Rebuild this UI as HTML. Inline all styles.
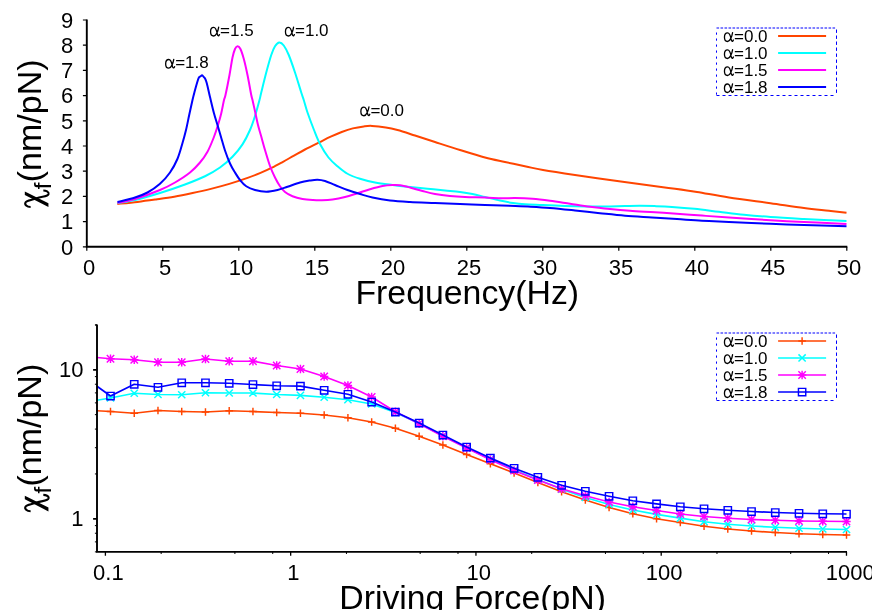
<!DOCTYPE html>
<html><head><meta charset="utf-8"><title>chart</title>
<style>html,body{margin:0;padding:0;background:#fff;overflow:hidden}svg{display:block;will-change:transform}text{font-family:"Liberation Sans",sans-serif;fill:#000}.sy{font-family:"Liberation Serif",serif}</style>
</head><body>
<svg width="872" height="610" viewBox="0 0 872 610">
<rect width="872" height="610" fill="#fff"/>
<g fill="none" stroke-width="2" stroke-linejoin="round" stroke-linecap="butt">
<path d="M117.30,203.90 C120.67,203.57 131.07,202.63 137.50,201.90 C143.93,201.17 149.78,200.35 155.90,199.50 C162.02,198.65 168.08,197.87 174.20,196.80 C180.32,195.73 186.48,194.42 192.60,193.10 C198.72,191.78 204.78,190.43 210.90,188.90 C217.02,187.37 223.18,185.73 229.30,183.90 C235.42,182.07 242.40,179.73 247.60,177.90 C252.80,176.07 256.43,174.60 260.50,172.90 C264.57,171.20 268.25,169.55 272.00,167.70 C275.75,165.85 279.33,163.82 283.00,161.80 C286.67,159.78 290.33,157.65 294.00,155.60 C297.67,153.55 300.72,151.75 305.00,149.50 C309.28,147.25 315.42,144.23 319.70,142.10 C323.98,139.97 327.03,138.38 330.70,136.70 C334.37,135.02 338.02,133.38 341.70,132.00 C345.38,130.62 349.12,129.33 352.80,128.40 C356.48,127.47 360.60,126.82 363.80,126.40 C367.00,125.98 368.33,125.73 372.00,125.90 C375.67,126.07 381.55,126.72 385.80,127.40 C390.05,128.08 392.63,128.65 397.50,130.00 C402.37,131.35 408.75,133.50 415.00,135.50 C421.25,137.50 427.50,139.58 435.00,142.00 C442.50,144.42 451.67,147.42 460.00,150.00 C468.33,152.58 477.50,155.50 485.00,157.50 C492.50,159.50 498.17,160.50 505.00,162.00 C511.83,163.50 519.67,165.17 526.00,166.50 C532.33,167.83 534.83,168.58 543.00,170.00 C551.17,171.42 562.33,173.12 575.00,175.00 C587.67,176.88 606.17,179.45 619.00,181.25 C631.83,183.05 642.67,184.55 652.00,185.80 C661.33,187.05 667.50,187.72 675.00,188.75 C682.50,189.78 688.00,190.54 697.00,192.00 C706.00,193.46 716.75,195.62 729.00,197.50 C741.25,199.38 758.00,201.50 770.50,203.25 C783.00,205.00 794.25,206.75 804.00,208.00 C813.75,209.25 821.92,209.96 829.00,210.75 C836.08,211.54 843.58,212.42 846.50,212.75" stroke="#ff4500"/>
<path d="M117.50,203.00 C120.42,202.50 127.92,201.67 135.00,200.00 C142.08,198.33 151.67,195.58 160.00,193.00 C168.33,190.42 177.50,187.29 185.00,184.50 C192.50,181.71 199.17,179.08 205.00,176.25 C210.83,173.42 215.42,170.74 220.00,167.50 C224.58,164.26 228.75,160.65 232.50,156.80 C236.25,152.95 239.58,148.87 242.50,144.40 C245.42,139.93 247.92,134.73 250.00,130.00 C252.08,125.27 253.42,121.00 255.00,116.00 C256.58,111.00 258.46,103.92 259.50,100.00 C260.54,96.08 260.12,97.08 261.25,92.50 C262.38,87.92 264.58,78.75 266.25,72.50 C267.92,66.25 269.79,59.38 271.25,55.00 C272.71,50.62 273.67,48.33 275.00,46.25 C276.33,44.17 277.79,42.62 279.25,42.50 C280.71,42.38 282.17,43.42 283.75,45.50 C285.33,47.58 286.88,50.50 288.75,55.00 C290.62,59.50 292.92,66.25 295.00,72.50 C297.08,78.75 299.79,87.92 301.25,92.50 C302.71,97.08 302.71,96.67 303.75,100.00 C304.79,103.33 305.79,107.50 307.50,112.50 C309.21,117.50 311.92,124.75 314.00,130.00 C316.08,135.25 317.58,139.42 320.00,144.00 C322.42,148.58 325.58,153.79 328.50,157.50 C331.42,161.21 334.33,163.54 337.50,166.25 C340.67,168.96 343.75,171.67 347.50,173.75 C351.25,175.83 355.42,177.29 360.00,178.75 C364.58,180.21 369.58,181.46 375.00,182.50 C380.42,183.54 386.67,184.25 392.50,185.00 C398.33,185.75 404.17,186.38 410.00,187.00 C415.83,187.62 421.67,188.17 427.50,188.75 C433.33,189.33 439.58,189.96 445.00,190.50 C450.42,191.04 455.42,191.42 460.00,192.00 C464.58,192.58 468.33,193.17 472.50,194.00 C476.67,194.83 480.42,195.90 485.00,197.00 C489.58,198.10 495.33,199.60 500.00,200.60 C504.67,201.60 508.83,202.39 513.00,203.00 C517.17,203.61 520.00,203.92 525.00,204.25 C530.00,204.58 536.33,204.71 543.00,205.00 C549.67,205.29 558.00,205.75 565.00,206.00 C572.00,206.25 578.33,206.42 585.00,206.50 C591.67,206.58 598.33,206.58 605.00,206.50 C611.67,206.42 619.17,206.12 625.00,206.00 C630.83,205.88 635.00,205.73 640.00,205.75 C645.00,205.77 649.67,205.91 655.00,206.10 C660.33,206.29 665.42,206.46 672.00,206.90 C678.58,207.34 686.67,207.94 694.50,208.75 C702.33,209.56 710.75,210.75 719.00,211.75 C727.25,212.75 735.42,213.88 744.00,214.75 C752.58,215.62 760.50,216.29 770.50,217.00 C780.50,217.71 794.25,218.46 804.00,219.00 C813.75,219.54 821.92,219.92 829.00,220.25 C836.08,220.58 843.58,220.88 846.50,221.00" stroke="#00ffff"/>
<path d="M117.50,202.75 C120.42,202.12 127.92,201.12 135.00,199.00 C142.08,196.88 153.33,192.75 160.00,190.00 C166.67,187.25 170.00,185.42 175.00,182.50 C180.00,179.58 185.83,175.83 190.00,172.50 C194.17,169.17 197.08,165.96 200.00,162.50 C202.92,159.04 205.21,155.92 207.50,151.75 C209.79,147.58 212.00,141.96 213.75,137.50 C215.50,133.04 216.76,129.00 218.00,125.00 C219.24,121.00 220.20,117.67 221.20,113.50 C222.20,109.33 223.28,103.08 224.00,100.00 C224.72,96.92 224.58,99.17 225.50,95.00 C226.42,90.83 228.33,81.25 229.50,75.00 C230.67,68.75 231.58,61.83 232.50,57.50 C233.42,53.17 234.17,50.88 235.00,49.00 C235.83,47.12 236.62,46.29 237.50,46.25 C238.38,46.21 239.26,46.67 240.30,48.75 C241.34,50.83 242.55,54.38 243.75,58.75 C244.95,63.12 246.25,68.96 247.50,75.00 C248.75,81.04 250.42,90.83 251.25,95.00 C252.08,99.17 251.79,96.92 252.50,100.00 C253.21,103.08 254.58,109.33 255.50,113.50 C256.42,117.67 257.04,121.17 258.00,125.00 C258.96,128.83 260.08,132.33 261.25,136.50 C262.42,140.67 263.54,145.08 265.00,150.00 C266.46,154.92 268.33,161.42 270.00,166.00 C271.67,170.58 273.33,174.12 275.00,177.50 C276.67,180.88 278.33,183.83 280.00,186.25 C281.67,188.67 282.92,190.33 285.00,192.00 C287.08,193.67 289.58,195.08 292.50,196.25 C295.42,197.42 299.08,198.36 302.50,199.00 C305.92,199.64 309.75,199.88 313.00,200.10 C316.25,200.32 318.75,200.40 322.00,200.30 C325.25,200.20 328.67,200.05 332.50,199.50 C336.33,198.95 340.83,198.04 345.00,197.00 C349.17,195.96 353.33,194.54 357.50,193.25 C361.67,191.96 365.83,190.46 370.00,189.25 C374.17,188.04 378.75,186.71 382.50,186.00 C386.25,185.29 389.58,185.12 392.50,185.00 C395.42,184.88 397.08,184.83 400.00,185.25 C402.92,185.67 406.25,186.54 410.00,187.50 C413.75,188.46 418.33,189.92 422.50,191.00 C426.67,192.08 430.42,193.17 435.00,194.00 C439.58,194.83 445.00,195.50 450.00,196.00 C455.00,196.50 459.17,196.75 465.00,197.00 C470.83,197.25 478.83,197.28 485.00,197.50 C491.17,197.72 497.00,198.22 502.00,198.30 C507.00,198.38 509.92,197.93 515.00,198.00 C520.08,198.07 526.67,198.29 532.50,198.75 C538.33,199.21 543.75,199.92 550.00,200.75 C556.25,201.58 563.33,202.75 570.00,203.75 C576.67,204.75 583.33,205.88 590.00,206.75 C596.67,207.62 603.33,208.33 610.00,209.00 C616.67,209.67 622.50,210.20 630.00,210.75 C637.50,211.30 646.67,211.76 655.00,212.30 C663.33,212.84 672.17,213.45 680.00,214.00 C687.83,214.55 693.83,215.02 702.00,215.60 C710.17,216.18 717.58,216.72 729.00,217.50 C740.42,218.28 758.00,219.50 770.50,220.25 C783.00,221.00 791.33,221.38 804.00,222.00 C816.67,222.62 839.42,223.67 846.50,224.00" stroke="#ff00ff"/>
<path d="M117.50,202.00 C120.42,201.25 130.00,199.08 135.00,197.50 C140.00,195.92 143.33,194.79 147.50,192.50 C151.67,190.21 156.25,187.08 160.00,183.75 C163.75,180.42 167.08,176.67 170.00,172.50 C172.92,168.33 175.42,163.67 177.50,158.75 C179.58,153.83 181.08,147.79 182.50,143.00 C183.92,138.21 184.88,134.67 186.00,130.00 C187.12,125.33 188.12,120.00 189.20,115.00 C190.28,110.00 191.62,103.83 192.50,100.00 C193.38,96.17 193.70,95.00 194.50,92.00 C195.30,89.00 196.57,84.40 197.30,82.00 C198.03,79.60 198.37,78.55 198.90,77.60 C199.43,76.65 199.97,76.68 200.50,76.30 C201.03,75.92 201.58,75.22 202.10,75.30 C202.62,75.38 203.10,76.25 203.60,76.80 C204.10,77.35 204.57,77.53 205.10,78.60 C205.63,79.67 205.98,80.13 206.80,83.20 C207.62,86.27 208.82,92.03 210.00,97.00 C211.18,101.97 212.65,108.33 213.90,113.00 C215.15,117.67 216.32,121.00 217.50,125.00 C218.68,129.00 219.75,132.75 221.00,137.00 C222.25,141.25 223.50,146.08 225.00,150.50 C226.50,154.92 228.33,159.83 230.00,163.50 C231.67,167.17 233.33,169.75 235.00,172.50 C236.67,175.25 238.12,177.71 240.00,180.00 C241.88,182.29 243.75,184.58 246.25,186.25 C248.75,187.92 251.67,189.08 255.00,190.00 C258.33,190.92 262.50,191.75 266.25,191.75 C270.00,191.75 273.96,190.83 277.50,190.00 C281.04,189.17 283.75,188.00 287.50,186.75 C291.25,185.50 296.25,183.54 300.00,182.50 C303.75,181.46 307.08,180.96 310.00,180.50 C312.92,180.04 315.00,179.67 317.50,179.75 C320.00,179.83 322.08,180.12 325.00,181.00 C327.92,181.88 331.25,183.50 335.00,185.00 C338.75,186.50 343.33,188.50 347.50,190.00 C351.67,191.50 355.83,192.75 360.00,194.00 C364.17,195.25 367.50,196.42 372.50,197.50 C377.50,198.58 383.75,199.75 390.00,200.50 C396.25,201.25 402.50,201.58 410.00,202.00 C417.50,202.42 426.67,202.67 435.00,203.00 C443.33,203.33 451.67,203.67 460.00,204.00 C468.33,204.33 476.67,204.70 485.00,205.00 C493.33,205.30 502.83,205.53 510.00,205.80 C517.17,206.07 521.33,206.23 528.00,206.60 C534.67,206.97 542.17,207.35 550.00,208.00 C557.83,208.65 566.67,209.62 575.00,210.50 C583.33,211.38 591.67,212.38 600.00,213.25 C608.33,214.12 616.33,215.04 625.00,215.75 C633.67,216.46 643.33,216.94 652.00,217.50 C660.67,218.06 668.67,218.56 677.00,219.10 C685.33,219.64 693.33,220.27 702.00,220.75 C710.67,221.23 717.58,221.50 729.00,222.00 C740.42,222.50 758.00,223.25 770.50,223.75 C783.00,224.25 791.33,224.58 804.00,225.00 C816.67,225.42 839.42,226.04 846.50,226.25" stroke="#0000ff"/>
</g>
<g stroke="#000" fill="none">
<path d="M86.80,19.50 V246.80 H847.30" stroke-width="1.90" stroke-linejoin="miter"/>
<path d="M86.80,246.80 h-3.9 M86.80,221.60 h-3.9 M86.80,196.40 h-3.9 M86.80,171.20 h-3.9 M86.80,146.00 h-3.9 M86.80,120.80 h-3.9 M86.80,95.60 h-3.9 M86.80,70.40 h-3.9 M86.80,45.20 h-3.9 M86.80,20.00 h-3.9 M86.80,246.80 v3.9 M162.80,246.80 v3.9 M238.80,246.80 v3.9 M314.80,246.80 v3.9 M390.80,246.80 v3.9 M466.80,246.80 v3.9 M542.80,246.80 v3.9 M618.80,246.80 v3.9 M694.80,246.80 v3.9 M770.80,246.80 v3.9 M846.80,246.80 v3.9 " stroke-width="1.2"/>
</g>
<g font-size="22">
<text x="73.2" y="254.50" text-anchor="end">0</text>
<text x="73.2" y="229.30" text-anchor="end">1</text>
<text x="73.2" y="204.10" text-anchor="end">2</text>
<text x="73.2" y="178.90" text-anchor="end">3</text>
<text x="73.2" y="153.70" text-anchor="end">4</text>
<text x="73.2" y="128.50" text-anchor="end">5</text>
<text x="73.2" y="103.30" text-anchor="end">6</text>
<text x="73.2" y="78.10" text-anchor="end">7</text>
<text x="73.2" y="52.90" text-anchor="end">8</text>
<text x="73.2" y="27.70" text-anchor="end">9</text>
<text x="89.10" y="275.3" text-anchor="middle">0</text>
<text x="165.10" y="275.3" text-anchor="middle">5</text>
<text x="241.10" y="275.3" text-anchor="middle">10</text>
<text x="317.10" y="275.3" text-anchor="middle">15</text>
<text x="393.10" y="275.3" text-anchor="middle">20</text>
<text x="469.10" y="275.3" text-anchor="middle">25</text>
<text x="545.10" y="275.3" text-anchor="middle">30</text>
<text x="621.10" y="275.3" text-anchor="middle">35</text>
<text x="697.10" y="275.3" text-anchor="middle">40</text>
<text x="773.10" y="275.3" text-anchor="middle">45</text>
<text x="849.10" y="275.3" text-anchor="middle">50</text>
</g>
<text x="467.3" y="304.3" font-size="33.85" text-anchor="middle">Frequency(Hz)</text>
<g transform="translate(0,0.00)"><path d="M24.84,191.4 L24.84,195.0 L48.44,207.1 L48.44,203.2 Z" fill="#000"/><path d="M30.61,207.00 C26.80,207.00 24.18,204.51 25.62,202.21 C26.93,200.25 31.39,200.25 36.64,198.28 C41.89,196.31 47.79,196.97 48.57,194.02 C49.10,191.72 45.82,190.54 43.33,190.54" fill="none" stroke="#000" stroke-width="2.1" stroke-linecap="butt"/></g><text transform="translate(41.4,189.30) rotate(-90)" font-size="34"><tspan font-size="24" dy="10">f</tspan><tspan dy="-10" dx="0.4">(nm/pN)</tspan></text>
<path transform="translate(165.10,68.40) scale(0.94,1)" d="M9.2,-9.0 C8.6,-5.5 6.6,-0.3 3.9,-0.3 C1.6,-0.3 0.6,-2.2 0.6,-4.5 C0.6,-7.0 1.8,-8.9 3.9,-8.9 C6.5,-8.9 7.2,-5.0 7.7,-2.4 C8.0,-0.6 9.3,0.4 10.1,-1.7" fill="none" stroke="#000" stroke-width="1.4" stroke-linecap="round"/><text x="175.20" y="68.40" font-size="17.0">=1.8</text>
<path transform="translate(210.00,36.30) scale(0.94,1)" d="M9.2,-9.0 C8.6,-5.5 6.6,-0.3 3.9,-0.3 C1.6,-0.3 0.6,-2.2 0.6,-4.5 C0.6,-7.0 1.8,-8.9 3.9,-8.9 C6.5,-8.9 7.2,-5.0 7.7,-2.4 C8.0,-0.6 9.3,0.4 10.1,-1.7" fill="none" stroke="#000" stroke-width="1.4" stroke-linecap="round"/><text x="220.10" y="36.30" font-size="17.0">=1.5</text>
<path transform="translate(284.90,36.30) scale(0.94,1)" d="M9.2,-9.0 C8.6,-5.5 6.6,-0.3 3.9,-0.3 C1.6,-0.3 0.6,-2.2 0.6,-4.5 C0.6,-7.0 1.8,-8.9 3.9,-8.9 C6.5,-8.9 7.2,-5.0 7.7,-2.4 C8.0,-0.6 9.3,0.4 10.1,-1.7" fill="none" stroke="#000" stroke-width="1.4" stroke-linecap="round"/><text x="295.00" y="36.30" font-size="17.0">=1.0</text>
<path transform="translate(360.30,116.00) scale(0.94,1)" d="M9.2,-9.0 C8.6,-5.5 6.6,-0.3 3.9,-0.3 C1.6,-0.3 0.6,-2.2 0.6,-4.5 C0.6,-7.0 1.8,-8.9 3.9,-8.9 C6.5,-8.9 7.2,-5.0 7.7,-2.4 C8.0,-0.6 9.3,0.4 10.1,-1.7" fill="none" stroke="#000" stroke-width="1.4" stroke-linecap="round"/><text x="370.40" y="116.00" font-size="17.0">=0.0</text>
<g fill="none" stroke="#0000ff" stroke-width="1"><path d="M716.50,28.00 H836.50" stroke-dasharray="2.6,1.4"/><path d="M836.50,29.50 V95.50" stroke-dasharray="3.4,2.6"/><path d="M716.50,95.50 H836.50" stroke-dasharray="3,3"/><path d="M716.50,32.50 V95.50" stroke-dasharray="2.2,3.8"/></g><path transform="translate(723.90,41.75) scale(0.94,1)" d="M9.2,-9.0 C8.6,-5.5 6.6,-0.3 3.9,-0.3 C1.6,-0.3 0.6,-2.2 0.6,-4.5 C0.6,-7.0 1.8,-8.9 3.9,-8.9 C6.5,-8.9 7.2,-5.0 7.7,-2.4 C8.0,-0.6 9.3,0.4 10.1,-1.7" fill="none" stroke="#000" stroke-width="1.4" stroke-linecap="round"/><text x="734.00" y="41.75" font-size="17.0">=0.0</text><path d="M778.1,35.95 H826.1" stroke="#ff4500" stroke-width="2" fill="none"/><path transform="translate(723.90,58.78) scale(0.94,1)" d="M9.2,-9.0 C8.6,-5.5 6.6,-0.3 3.9,-0.3 C1.6,-0.3 0.6,-2.2 0.6,-4.5 C0.6,-7.0 1.8,-8.9 3.9,-8.9 C6.5,-8.9 7.2,-5.0 7.7,-2.4 C8.0,-0.6 9.3,0.4 10.1,-1.7" fill="none" stroke="#000" stroke-width="1.4" stroke-linecap="round"/><text x="734.00" y="58.78" font-size="17.0">=1.0</text><path d="M778.1,52.98 H826.1" stroke="#00ffff" stroke-width="2" fill="none"/><path transform="translate(723.90,75.81) scale(0.94,1)" d="M9.2,-9.0 C8.6,-5.5 6.6,-0.3 3.9,-0.3 C1.6,-0.3 0.6,-2.2 0.6,-4.5 C0.6,-7.0 1.8,-8.9 3.9,-8.9 C6.5,-8.9 7.2,-5.0 7.7,-2.4 C8.0,-0.6 9.3,0.4 10.1,-1.7" fill="none" stroke="#000" stroke-width="1.4" stroke-linecap="round"/><text x="734.00" y="75.81" font-size="17.0">=1.5</text><path d="M778.1,70.01 H826.1" stroke="#ff00ff" stroke-width="2" fill="none"/><path transform="translate(723.90,92.84) scale(0.94,1)" d="M9.2,-9.0 C8.6,-5.5 6.6,-0.3 3.9,-0.3 C1.6,-0.3 0.6,-2.2 0.6,-4.5 C0.6,-7.0 1.8,-8.9 3.9,-8.9 C6.5,-8.9 7.2,-5.0 7.7,-2.4 C8.0,-0.6 9.3,0.4 10.1,-1.7" fill="none" stroke="#000" stroke-width="1.4" stroke-linecap="round"/><text x="734.00" y="92.84" font-size="17.0">=1.8</text><path d="M778.1,87.04 H826.1" stroke="#0000ff" stroke-width="2" fill="none"/>
<g fill="none" stroke="#ff4500"><path d="M97.00,410.75 L110.50,411.50 L134.24,413.25 L157.98,410.50 L181.73,411.50 L205.47,412.00 L229.21,410.75 L252.95,411.50 L276.69,412.50 L300.44,413.25 L324.18,415.00 L347.92,417.75 L371.66,422.00 L395.40,428.25 L419.15,436.25 L442.89,445.00 L466.63,454.50 L490.37,463.75 L514.11,473.00 L537.85,482.50 L561.60,491.75 L585.34,500.00 L609.08,507.50 L632.82,513.75 L656.56,518.75 L680.31,522.50 L704.05,526.25 L727.79,529.00 L751.53,531.00 L775.27,532.50 L799.02,533.75 L822.76,534.50 L846.50,535.00" stroke-width="1.7" stroke-linejoin="round"/><path d="M106.70,411.50 h7.60 M110.50,407.70 v7.60 M130.44,413.25 h7.60 M134.24,409.45 v7.60 M154.18,410.50 h7.60 M157.98,406.70 v7.60 M177.93,411.50 h7.60 M181.73,407.70 v7.60 M201.67,412.00 h7.60 M205.47,408.20 v7.60 M225.41,410.75 h7.60 M229.21,406.95 v7.60 M249.15,411.50 h7.60 M252.95,407.70 v7.60 M272.89,412.50 h7.60 M276.69,408.70 v7.60 M296.64,413.25 h7.60 M300.44,409.45 v7.60 M320.38,415.00 h7.60 M324.18,411.20 v7.60 M344.12,417.75 h7.60 M347.92,413.95 v7.60 M367.86,422.00 h7.60 M371.66,418.20 v7.60 M391.60,428.25 h7.60 M395.40,424.45 v7.60 M415.35,436.25 h7.60 M419.15,432.45 v7.60 M439.09,445.00 h7.60 M442.89,441.20 v7.60 M462.83,454.50 h7.60 M466.63,450.70 v7.60 M486.57,463.75 h7.60 M490.37,459.95 v7.60 M510.31,473.00 h7.60 M514.11,469.20 v7.60 M534.05,482.50 h7.60 M537.85,478.70 v7.60 M557.80,491.75 h7.60 M561.60,487.95 v7.60 M581.54,500.00 h7.60 M585.34,496.20 v7.60 M605.28,507.50 h7.60 M609.08,503.70 v7.60 M629.02,513.75 h7.60 M632.82,509.95 v7.60 M652.76,518.75 h7.60 M656.56,514.95 v7.60 M676.51,522.50 h7.60 M680.31,518.70 v7.60 M700.25,526.25 h7.60 M704.05,522.45 v7.60 M723.99,529.00 h7.60 M727.79,525.20 v7.60 M747.73,531.00 h7.60 M751.53,527.20 v7.60 M771.47,532.50 h7.60 M775.27,528.70 v7.60 M795.22,533.75 h7.60 M799.02,529.95 v7.60 M818.96,534.50 h7.60 M822.76,530.70 v7.60 M842.70,535.00 h7.60 M846.50,531.20 v7.60" stroke-width="1.45"/></g>
<g fill="none" stroke="#00ffff"><path d="M97.00,400.25 L110.50,398.00 L134.24,393.25 L157.98,394.50 L181.73,394.75 L205.47,392.75 L229.21,393.00 L252.95,393.00 L276.69,394.50 L300.44,395.40 L324.18,397.25 L347.92,399.75 L371.66,404.00 L395.40,412.50 L419.15,423.50 L442.89,435.75 L466.63,447.75 L490.37,459.25 L514.11,470.00 L537.85,479.50 L561.60,489.25 L585.34,497.50 L609.08,504.50 L632.82,510.00 L656.56,514.40 L680.31,518.10 L704.05,521.75 L727.79,524.25 L751.53,526.00 L775.27,527.25 L799.02,528.25 L822.76,529.00 L846.50,529.50" stroke-width="1.7" stroke-linejoin="round"/><path d="M106.90,394.40 l7.20,7.20 M106.90,401.60 l7.20,-7.20 M130.64,389.65 l7.20,7.20 M130.64,396.85 l7.20,-7.20 M154.38,390.90 l7.20,7.20 M154.38,398.10 l7.20,-7.20 M178.13,391.15 l7.20,7.20 M178.13,398.35 l7.20,-7.20 M201.87,389.15 l7.20,7.20 M201.87,396.35 l7.20,-7.20 M225.61,389.40 l7.20,7.20 M225.61,396.60 l7.20,-7.20 M249.35,389.40 l7.20,7.20 M249.35,396.60 l7.20,-7.20 M273.09,390.90 l7.20,7.20 M273.09,398.10 l7.20,-7.20 M296.84,391.80 l7.20,7.20 M296.84,399.00 l7.20,-7.20 M320.58,393.65 l7.20,7.20 M320.58,400.85 l7.20,-7.20 M344.32,396.15 l7.20,7.20 M344.32,403.35 l7.20,-7.20 M368.06,400.40 l7.20,7.20 M368.06,407.60 l7.20,-7.20 M391.80,408.90 l7.20,7.20 M391.80,416.10 l7.20,-7.20 M415.55,419.90 l7.20,7.20 M415.55,427.10 l7.20,-7.20 M439.29,432.15 l7.20,7.20 M439.29,439.35 l7.20,-7.20 M463.03,444.15 l7.20,7.20 M463.03,451.35 l7.20,-7.20 M486.77,455.65 l7.20,7.20 M486.77,462.85 l7.20,-7.20 M510.51,466.40 l7.20,7.20 M510.51,473.60 l7.20,-7.20 M534.25,475.90 l7.20,7.20 M534.25,483.10 l7.20,-7.20 M558.00,485.65 l7.20,7.20 M558.00,492.85 l7.20,-7.20 M581.74,493.90 l7.20,7.20 M581.74,501.10 l7.20,-7.20 M605.48,500.90 l7.20,7.20 M605.48,508.10 l7.20,-7.20 M629.22,506.40 l7.20,7.20 M629.22,513.60 l7.20,-7.20 M652.96,510.80 l7.20,7.20 M652.96,518.00 l7.20,-7.20 M676.71,514.50 l7.20,7.20 M676.71,521.70 l7.20,-7.20 M700.45,518.15 l7.20,7.20 M700.45,525.35 l7.20,-7.20 M724.19,520.65 l7.20,7.20 M724.19,527.85 l7.20,-7.20 M747.93,522.40 l7.20,7.20 M747.93,529.60 l7.20,-7.20 M771.67,523.65 l7.20,7.20 M771.67,530.85 l7.20,-7.20 M795.42,524.65 l7.20,7.20 M795.42,531.85 l7.20,-7.20 M819.16,525.40 l7.20,7.20 M819.16,532.60 l7.20,-7.20 M842.90,525.90 l7.20,7.20 M842.90,533.10 l7.20,-7.20" stroke-width="1.45"/></g>
<g fill="none" stroke="#ff00ff"><path d="M97.00,357.50 L110.50,358.75 L134.24,359.75 L157.98,362.25 L181.73,362.25 L205.47,359.00 L229.21,361.25 L252.95,361.25 L276.69,365.50 L300.44,369.00 L324.18,376.50 L347.92,385.50 L371.66,397.00 L395.40,411.75 L419.15,423.75 L442.89,436.25 L466.63,448.00 L490.37,459.75 L514.11,470.50 L537.85,480.00 L561.60,488.75 L585.34,495.75 L609.08,502.00 L632.82,506.75 L656.56,510.50 L680.31,514.00 L704.05,516.50 L727.79,518.25 L751.53,519.50 L775.27,520.25 L799.02,521.00 L822.76,521.25 L846.50,521.50" stroke-width="1.7" stroke-linejoin="round"/><path d="M106.30,358.75 h8.40 M110.50,354.55 v8.40 M106.80,355.05 l7.39,7.39 M106.80,362.45 l7.39,-7.39 M130.04,359.75 h8.40 M134.24,355.55 v8.40 M130.55,356.05 l7.39,7.39 M130.55,363.45 l7.39,-7.39 M153.78,362.25 h8.40 M157.98,358.05 v8.40 M154.29,358.55 l7.39,7.39 M154.29,365.95 l7.39,-7.39 M177.53,362.25 h8.40 M181.73,358.05 v8.40 M178.03,358.55 l7.39,7.39 M178.03,365.95 l7.39,-7.39 M201.27,359.00 h8.40 M205.47,354.80 v8.40 M201.77,355.30 l7.39,7.39 M201.77,362.70 l7.39,-7.39 M225.01,361.25 h8.40 M229.21,357.05 v8.40 M225.51,357.55 l7.39,7.39 M225.51,364.95 l7.39,-7.39 M248.75,361.25 h8.40 M252.95,357.05 v8.40 M249.26,357.55 l7.39,7.39 M249.26,364.95 l7.39,-7.39 M272.49,365.50 h8.40 M276.69,361.30 v8.40 M273.00,361.80 l7.39,7.39 M273.00,369.20 l7.39,-7.39 M296.24,369.00 h8.40 M300.44,364.80 v8.40 M296.74,365.30 l7.39,7.39 M296.74,372.70 l7.39,-7.39 M319.98,376.50 h8.40 M324.18,372.30 v8.40 M320.48,372.80 l7.39,7.39 M320.48,380.20 l7.39,-7.39 M343.72,385.50 h8.40 M347.92,381.30 v8.40 M344.22,381.80 l7.39,7.39 M344.22,389.20 l7.39,-7.39 M367.46,397.00 h8.40 M371.66,392.80 v8.40 M367.97,393.30 l7.39,7.39 M367.97,400.70 l7.39,-7.39 M391.20,411.75 h8.40 M395.40,407.55 v8.40 M391.71,408.05 l7.39,7.39 M391.71,415.45 l7.39,-7.39 M414.95,423.75 h8.40 M419.15,419.55 v8.40 M415.45,420.05 l7.39,7.39 M415.45,427.45 l7.39,-7.39 M438.69,436.25 h8.40 M442.89,432.05 v8.40 M439.19,432.55 l7.39,7.39 M439.19,439.95 l7.39,-7.39 M462.43,448.00 h8.40 M466.63,443.80 v8.40 M462.93,444.30 l7.39,7.39 M462.93,451.70 l7.39,-7.39 M486.17,459.75 h8.40 M490.37,455.55 v8.40 M486.67,456.05 l7.39,7.39 M486.67,463.45 l7.39,-7.39 M509.91,470.50 h8.40 M514.11,466.30 v8.40 M510.42,466.80 l7.39,7.39 M510.42,474.20 l7.39,-7.39 M533.65,480.00 h8.40 M537.85,475.80 v8.40 M534.16,476.30 l7.39,7.39 M534.16,483.70 l7.39,-7.39 M557.40,488.75 h8.40 M561.60,484.55 v8.40 M557.90,485.05 l7.39,7.39 M557.90,492.45 l7.39,-7.39 M581.14,495.75 h8.40 M585.34,491.55 v8.40 M581.64,492.05 l7.39,7.39 M581.64,499.45 l7.39,-7.39 M604.88,502.00 h8.40 M609.08,497.80 v8.40 M605.38,498.30 l7.39,7.39 M605.38,505.70 l7.39,-7.39 M628.62,506.75 h8.40 M632.82,502.55 v8.40 M629.13,503.05 l7.39,7.39 M629.13,510.45 l7.39,-7.39 M652.36,510.50 h8.40 M656.56,506.30 v8.40 M652.87,506.80 l7.39,7.39 M652.87,514.20 l7.39,-7.39 M676.11,514.00 h8.40 M680.31,509.80 v8.40 M676.61,510.30 l7.39,7.39 M676.61,517.70 l7.39,-7.39 M699.85,516.50 h8.40 M704.05,512.30 v8.40 M700.35,512.80 l7.39,7.39 M700.35,520.20 l7.39,-7.39 M723.59,518.25 h8.40 M727.79,514.05 v8.40 M724.09,514.55 l7.39,7.39 M724.09,521.95 l7.39,-7.39 M747.33,519.50 h8.40 M751.53,515.30 v8.40 M747.84,515.80 l7.39,7.39 M747.84,523.20 l7.39,-7.39 M771.07,520.25 h8.40 M775.27,516.05 v8.40 M771.58,516.55 l7.39,7.39 M771.58,523.95 l7.39,-7.39 M794.82,521.00 h8.40 M799.02,516.80 v8.40 M795.32,517.30 l7.39,7.39 M795.32,524.70 l7.39,-7.39 M818.56,521.25 h8.40 M822.76,517.05 v8.40 M819.06,517.55 l7.39,7.39 M819.06,524.95 l7.39,-7.39 M842.30,521.50 h8.40 M846.50,517.30 v8.40 M842.80,517.80 l7.39,7.39 M842.80,525.20 l7.39,-7.39" stroke-width="1.45"/></g>
<g fill="none" stroke="#0000ff"><path d="M97.00,386.25 L110.50,396.00 L134.24,384.25 L157.98,387.25 L181.73,382.75 L205.47,382.75 L229.21,383.25 L252.95,384.50 L276.69,385.75 L300.44,386.10 L324.18,390.25 L347.92,394.25 L371.66,402.00 L395.40,412.00 L419.15,423.00 L442.89,435.00 L466.63,447.00 L490.37,458.10 L514.11,468.25 L537.85,477.25 L561.60,485.25 L585.34,491.25 L609.08,496.25 L632.82,500.75 L656.56,503.90 L680.31,506.75 L704.05,508.75 L727.79,510.25 L751.53,511.50 L775.27,512.50 L799.02,513.25 L822.76,513.75 L846.50,514.00" stroke-width="1.7" stroke-linejoin="round"/><path d="M106.85,392.35 h7.30 v7.30 h-7.30 z M130.59,380.60 h7.30 v7.30 h-7.30 z M154.33,383.60 h7.30 v7.30 h-7.30 z M178.08,379.10 h7.30 v7.30 h-7.30 z M201.82,379.10 h7.30 v7.30 h-7.30 z M225.56,379.60 h7.30 v7.30 h-7.30 z M249.30,380.85 h7.30 v7.30 h-7.30 z M273.04,382.10 h7.30 v7.30 h-7.30 z M296.79,382.45 h7.30 v7.30 h-7.30 z M320.53,386.60 h7.30 v7.30 h-7.30 z M344.27,390.60 h7.30 v7.30 h-7.30 z M368.01,398.35 h7.30 v7.30 h-7.30 z M391.75,408.35 h7.30 v7.30 h-7.30 z M415.50,419.35 h7.30 v7.30 h-7.30 z M439.24,431.35 h7.30 v7.30 h-7.30 z M462.98,443.35 h7.30 v7.30 h-7.30 z M486.72,454.45 h7.30 v7.30 h-7.30 z M510.46,464.60 h7.30 v7.30 h-7.30 z M534.20,473.60 h7.30 v7.30 h-7.30 z M557.95,481.60 h7.30 v7.30 h-7.30 z M581.69,487.60 h7.30 v7.30 h-7.30 z M605.43,492.60 h7.30 v7.30 h-7.30 z M629.17,497.10 h7.30 v7.30 h-7.30 z M652.91,500.25 h7.30 v7.30 h-7.30 z M676.66,503.10 h7.30 v7.30 h-7.30 z M700.40,505.10 h7.30 v7.30 h-7.30 z M724.14,506.60 h7.30 v7.30 h-7.30 z M747.88,507.85 h7.30 v7.30 h-7.30 z M771.62,508.85 h7.30 v7.30 h-7.30 z M795.37,509.60 h7.30 v7.30 h-7.30 z M819.11,510.10 h7.30 v7.30 h-7.30 z M842.85,510.35 h7.30 v7.30 h-7.30 z" stroke-width="1.45"/></g>
<g stroke="#000" fill="none">
<path d="M97.00,324.50 V551.90 H847.00" stroke-width="1.90"/>
<path d="M105.40,551.90 v3.8 M290.67,551.90 v3.8 M475.94,551.90 v3.8 M661.21,551.90 v3.8 M846.48,551.90 v3.8 " stroke-width="1.3"/>
<path d="M97.00,518.80 h-3.9 M97.00,369.80 h-3.9 " stroke-width="1.7"/>
<path d="M97.00,551.86 h-2.1 M97.00,541.88 h-2.1 M97.00,533.24 h-2.1 M97.00,525.62 h-2.1 M97.00,473.95 h-2.1 M97.00,447.71 h-2.1 M97.00,429.09 h-2.1 M97.00,414.65 h-2.1 M97.00,402.86 h-2.1 M97.00,392.88 h-2.1 M97.00,384.24 h-2.1 M97.00,376.62 h-2.1 M97.00,324.95 h-2.1 M161.17,551.90 v2.1 M234.90,551.90 v2.1 M272.72,551.90 v2.1 M346.44,551.90 v2.1 M420.17,551.90 v2.1 M457.99,551.90 v2.1 M531.71,551.90 v2.1 M605.44,551.90 v2.1 M643.26,551.90 v2.1 M716.98,551.90 v2.1 M790.71,551.90 v2.1 M828.53,551.90 v2.1 M97.00,325.00 h-2 " stroke-width="1"/>
</g>
<g font-size="22">
<text x="83.5" y="377.40" text-anchor="end">10</text>
<text x="83.5" y="525.90" text-anchor="end">1</text>
<text x="108.40" y="579.8" text-anchor="middle">0.1</text>
<text x="293.27" y="579.8" text-anchor="middle">1</text>
<text x="478.74" y="579.8" text-anchor="middle">10</text>
<text x="664.21" y="579.8" text-anchor="middle">100</text>
<text x="850.28" y="579.8" text-anchor="middle">1000</text>
</g>
<text x="472.6" y="608.7" font-size="33.8" text-anchor="middle">Driving Force(pN)</text>
<g transform="translate(0,304.30)"><path d="M24.84,191.4 L24.84,195.0 L48.44,207.1 L48.44,203.2 Z" fill="#000"/><path d="M30.61,207.00 C26.80,207.00 24.18,204.51 25.62,202.21 C26.93,200.25 31.39,200.25 36.64,198.28 C41.89,196.31 47.79,196.97 48.57,194.02 C49.10,191.72 45.82,190.54 43.33,190.54" fill="none" stroke="#000" stroke-width="2.1" stroke-linecap="butt"/></g><text transform="translate(41.4,493.60) rotate(-90)" font-size="34"><tspan font-size="24" dy="10">f</tspan><tspan dy="-10" dx="0.4">(nm/pN)</tspan></text>
<g fill="none" stroke="#0000ff" stroke-width="1"><path d="M716.50,333.00 H836.50" stroke-dasharray="2.6,1.4"/><path d="M836.50,334.50 V400.50" stroke-dasharray="3.4,2.6"/><path d="M716.50,400.50 H836.50" stroke-dasharray="3,3"/><path d="M716.50,337.50 V400.50" stroke-dasharray="2.2,3.8"/></g><path transform="translate(723.90,346.75) scale(0.94,1)" d="M9.2,-9.0 C8.6,-5.5 6.6,-0.3 3.9,-0.3 C1.6,-0.3 0.6,-2.2 0.6,-4.5 C0.6,-7.0 1.8,-8.9 3.9,-8.9 C6.5,-8.9 7.2,-5.0 7.7,-2.4 C8.0,-0.6 9.3,0.4 10.1,-1.7" fill="none" stroke="#000" stroke-width="1.4" stroke-linecap="round"/><text x="734.00" y="346.75" font-size="17.0">=0.0</text><path d="M778.1,340.95 H826.1" stroke="#ff4500" stroke-width="1.6" fill="none"/><path d="M798.30,340.95 h7.60 M802.10,337.15 v7.60" stroke="#ff4500" stroke-width="1.45" fill="none"/><path transform="translate(723.90,363.78) scale(0.94,1)" d="M9.2,-9.0 C8.6,-5.5 6.6,-0.3 3.9,-0.3 C1.6,-0.3 0.6,-2.2 0.6,-4.5 C0.6,-7.0 1.8,-8.9 3.9,-8.9 C6.5,-8.9 7.2,-5.0 7.7,-2.4 C8.0,-0.6 9.3,0.4 10.1,-1.7" fill="none" stroke="#000" stroke-width="1.4" stroke-linecap="round"/><text x="734.00" y="363.78" font-size="17.0">=1.0</text><path d="M778.1,357.98 H826.1" stroke="#00ffff" stroke-width="1.6" fill="none"/><path d="M798.50,354.38 l7.20,7.20 M798.50,361.58 l7.20,-7.20" stroke="#00ffff" stroke-width="1.45" fill="none"/><path transform="translate(723.90,380.81) scale(0.94,1)" d="M9.2,-9.0 C8.6,-5.5 6.6,-0.3 3.9,-0.3 C1.6,-0.3 0.6,-2.2 0.6,-4.5 C0.6,-7.0 1.8,-8.9 3.9,-8.9 C6.5,-8.9 7.2,-5.0 7.7,-2.4 C8.0,-0.6 9.3,0.4 10.1,-1.7" fill="none" stroke="#000" stroke-width="1.4" stroke-linecap="round"/><text x="734.00" y="380.81" font-size="17.0">=1.5</text><path d="M778.1,375.01 H826.1" stroke="#ff00ff" stroke-width="1.6" fill="none"/><path d="M797.90,375.01 h8.40 M802.10,370.81 v8.40 M798.40,371.31 l7.39,7.39 M798.40,378.71 l7.39,-7.39" stroke="#ff00ff" stroke-width="1.45" fill="none"/><path transform="translate(723.90,397.84) scale(0.94,1)" d="M9.2,-9.0 C8.6,-5.5 6.6,-0.3 3.9,-0.3 C1.6,-0.3 0.6,-2.2 0.6,-4.5 C0.6,-7.0 1.8,-8.9 3.9,-8.9 C6.5,-8.9 7.2,-5.0 7.7,-2.4 C8.0,-0.6 9.3,0.4 10.1,-1.7" fill="none" stroke="#000" stroke-width="1.4" stroke-linecap="round"/><text x="734.00" y="397.84" font-size="17.0">=1.8</text><path d="M778.1,392.04 H826.1" stroke="#0000ff" stroke-width="1.6" fill="none"/><path d="M798.45,388.39 h7.30 v7.30 h-7.30 z" stroke="#0000ff" stroke-width="1.45" fill="none"/>
</svg></body></html>
